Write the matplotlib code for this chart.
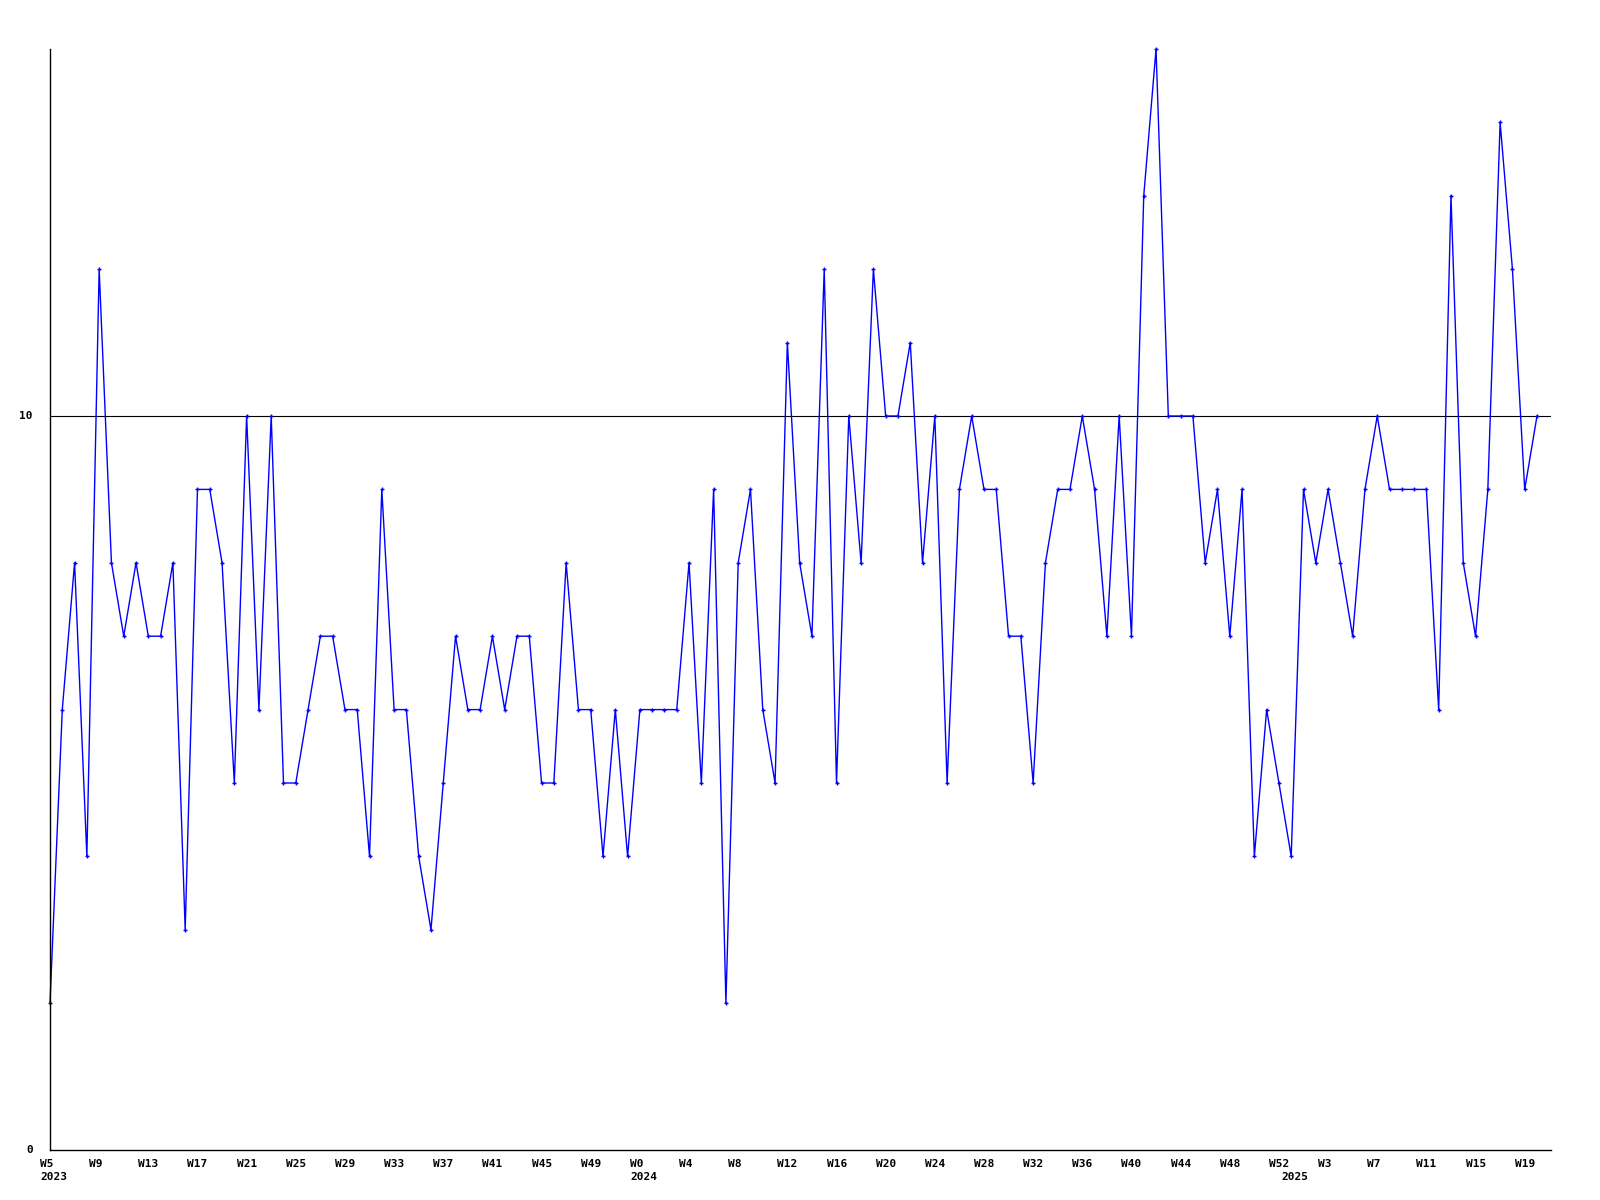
import matplotlib
matplotlib.use("Agg")
import matplotlib.pyplot as plt
from matplotlib.transforms import offset_copy, blended_transform_factory

# ---- data ----
years = [2023, 2024, 2025]
weeks_2023 = list(range(5, 53))
weeks_2024 = list(range(0, 53))
weeks_2025 = list(range(0, 21))

values = [
    2, 6, 8, 4, 12, 8, 7, 8, 7, 7, 8, 3, 9, 9, 8, 5, 10, 6, 10, 5,
    5, 6, 7, 7, 6, 6, 4, 9, 6, 6, 4, 3, 5, 7, 6, 6, 7, 6, 7, 7,
    5, 5, 8, 6, 6, 4, 6, 4, 6, 6, 6, 6, 8, 5, 9, 2, 8, 9, 6, 5,
    11, 8, 7, 12, 5, 10, 8, 12, 10, 10, 11, 8, 10, 5, 9, 10, 9, 9, 7, 7,
    5, 8, 9, 9, 10, 9, 7, 10, 7, 13, 15, 10, 10, 10, 8, 9, 7, 9, 4, 6,
    5, 4, 9, 8, 9, 8, 7, 9, 10, 9, 9, 9, 9, 6, 13, 8, 7, 9, 14, 12,
    9, 10,
]
ref_value = 10
y_ticks = [0, 10]

week_labels = (["W%d" % w for w in weeks_2023]
               + ["W%d" % w for w in weeks_2024]
               + ["W%d" % w for w in weeks_2025])
year_start_idx = [0, len(weeks_2023), len(weeks_2023) + len(weeks_2024)]

# ---- figure ----
W, H = 1600, 1200
fig = plt.figure(figsize=(16, 12), dpi=100)
left, right, top, bottom = 50, 1551, 49, 1150
ax = fig.add_axes([left / W, 1 - bottom / H, (right - left) / W, (bottom - top) / H])

n = len(values)
x = list(range(n))
step = (1537 - 50) / (n - 1)
ax.set_xlim(0, (right - left) / step)
ax.set_ylim(0, 15)

ax.axhline(ref_value, color="black", lw=0.8, zorder=1)
ax.plot(x, values, color="#0000ff", lw=1.0, marker="+", ms=3.5, mew=1.0,
        zorder=2, clip_on=False)

for s in ["top", "right"]:
    ax.spines[s].set_visible(False)
for s in ["left", "bottom"]:
    ax.spines[s].set_color("black")
    ax.spines[s].set_linewidth(1.0)
ax.set_xticks([])
ax.set_yticks([])

font = dict(family="DejaVu Sans Mono", fontsize=8, fontweight="bold", color="black")

# y labels
ytr = blended_transform_factory(ax.transAxes, ax.transData)
ytr = offset_copy(ytr, fig=fig, x=-17, y=0, units="dots")
for v in y_ticks:
    ax.text(0, v, str(v), transform=ytr, ha="right", va="center", **font)

# x labels
xtr = blended_transform_factory(ax.transData, ax.transAxes)
xtr1 = offset_copy(xtr, fig=fig, x=-10, y=-9, units="dots")
xtr2 = offset_copy(xtr, fig=fig, x=-10, y=-22, units="dots")
for i in range(0, n, 4):
    ax.text(i, 0, week_labels[i], transform=xtr1, ha="left", va="top", **font)
for yr, i in zip(years, year_start_idx):
    ax.text(i, 0, str(yr), transform=xtr2, ha="left", va="top", **font)

fig.savefig("out.png", dpi=100, facecolor="white")
